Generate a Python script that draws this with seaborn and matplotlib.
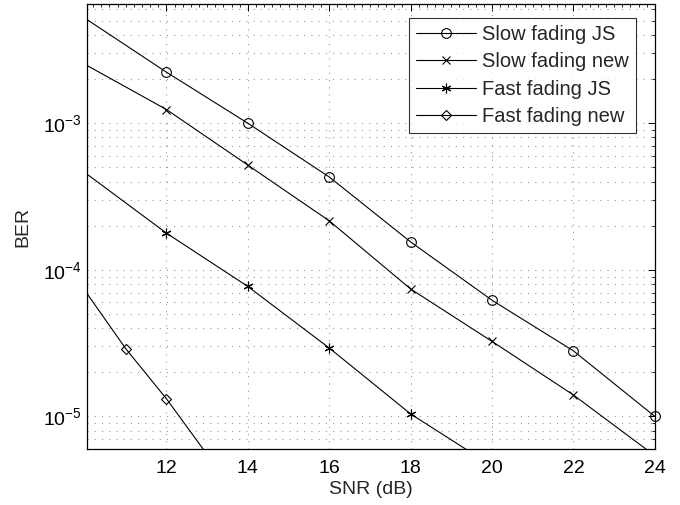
import matplotlib
matplotlib.use("Agg")
import matplotlib.pyplot as plt
from matplotlib.lines import Line2D
from matplotlib.ticker import LogLocator, MultipleLocator, FixedLocator
import seaborn as sns
import pandas as pd

# values (the line runs past the visible markers)
snr_slow = [10, 12, 14, 16, 18, 20, 22, 24]
ber_slow_js = [5.2e-3, 2.23e-3, 1.0e-3, 4.3e-4, 1.55e-4, 6.2e-5, 2.8e-5, 1.0e-5]
ber_slow_new = [2.52e-3, 1.24e-3, 5.18e-4, 2.16e-4, 7.4e-5, 3.25e-5, 1.4e-5, 5.4e-6]
snr_fast_js = [10, 12, 14, 16, 18, 20]
ber_fast_js = [4.6e-4, 1.78e-4, 7.7e-5, 2.93e-5, 1.04e-5, 4.6e-6]
snr_fast_new = [10, 11, 12, 13]
ber_fast_new = [7.2e-5, 2.9e-5, 1.32e-5, 5.5e-6]

labels = ["Slow fading JS", "Slow fading new", "Fast fading JS", "Fast fading new"]
markers = ["o", "x", (6, 2, 0), "D"]
marker_sizes = [7, 6, 7, 5.5]
# which points carry a visible marker
marker_idx = [[1, 2, 3, 4, 5, 6, 7], [1, 2, 3, 4, 5, 6], [1, 2, 3, 4], [1, 2]]

sns.set_style("white")
plt.rcParams["font.family"] = ["Liberation Sans", "DejaVu Sans"]
plt.rcParams["mathtext.fontset"] = "custom"
plt.rcParams["mathtext.rm"] = "Liberation Sans"
plt.rcParams["mathtext.it"] = "Liberation Sans"

series = [
    (snr_slow, ber_slow_js),
    (snr_slow, ber_slow_new),
    (snr_fast_js, ber_fast_js),
    (snr_fast_new, ber_fast_new),
]

fig = plt.figure(figsize=(6.8, 5.05), dpi=100)
ax = fig.add_axes([0.128, 0.111, 0.835, 0.881])

handles = []
for (x, y), lab, m, ms, idx in zip(series, labels, markers, marker_sizes, marker_idx):
    df = pd.DataFrame({"SNR": x, "BER": y})
    sns.lineplot(data=df, x="SNR", y="BER", ax=ax, color="black", linewidth=0.8)
    mx = [x[i] for i in idx]
    my = [y[i] for i in idx]
    ax.plot(mx, my, linestyle="none", marker=m, markersize=ms, color="black",
            markerfacecolor="none", markeredgewidth=0.8, clip_on=False, zorder=4)
    handles.append(Line2D([0], [0], color="black", linewidth=0.8, marker=m,
                          markersize=ms, markerfacecolor="none", markeredgewidth=0.8,
                          label=lab))

ax.set_yscale("log")
ax.set_xlim(10.05, 24)
ax.set_ylim(6.0e-6, 6.5e-3)

ax.xaxis.set_major_locator(FixedLocator([12, 14, 16, 18, 20, 22, 24]))
ax.xaxis.set_minor_locator(MultipleLocator(0.2))
ax.yaxis.set_major_locator(LogLocator(base=10, numticks=10))
ax.yaxis.set_minor_locator(LogLocator(base=10, subs=range(2, 10), numticks=20))

grid_style = dict(linestyle=(0, (1, 5.5)), linewidth=0.8, color="0.6")
ax.grid(True, which="major", axis="both", **grid_style)
ax.grid(True, which="minor", axis="y", **grid_style)

ax.tick_params(which="both", direction="in", top=True, right=True, labelsize=14,
               colors="black")
ax.tick_params(which="major", length=5, width=0.7)
ax.tick_params(axis="x", which="major", pad=8)
ax.tick_params(axis="y", which="major", pad=4)
ax.tick_params(which="minor", length=2.5, width=0.6)
for s in ax.spines.values():
    s.set_color("black")
    s.set_linewidth(0.9)

ax.set_xlabel("SNR (dB)", fontsize=14, labelpad=3)
ax.set_ylabel("BER", fontsize=14, labelpad=8)

leg = ax.legend(handles=handles, loc="upper right", bbox_to_anchor=(0.967, 0.969),
                fontsize=14.5, frameon=True, fancybox=False, edgecolor="black",
                handlelength=3.0, handletextpad=0.3, borderpad=0.35, labelspacing=0.42,
                borderaxespad=0)
leg.get_frame().set_linewidth(0.8)

fig.savefig("out.png", dpi=100)
